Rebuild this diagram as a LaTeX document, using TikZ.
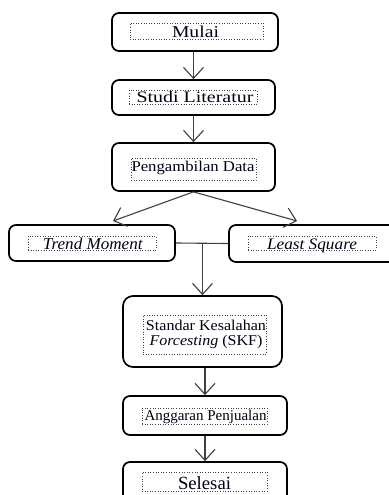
\documentclass[tikz,border=0pt]{standalone}
\usepackage{fontspec}
\usepackage{graphicx}
\setmainfont{Liberation Serif}
\usetikzlibrary{arrows.meta,calc}
\tikzset{
  outer/.style={draw=black, line width=1.7pt, rounded corners=7pt, fill=white, inner sep=0pt},
  dotbox/.style={draw=black!75, dotted, line width=0.6pt, inner sep=0pt},
  txt/.style={anchor=base, inner sep=0pt, text=black!92!blue},
  conn/.style={draw=black!75, line width=1.1pt},
  arr/.style={conn, -{Straight Barb[length=11pt,width=20pt,line width=1.1pt]}},
}
\newcommand{\fs}[1]{\fontsize{#1}{#1}\selectfont}
\begin{document}
\begin{tikzpicture}[x=1pt,y=-1pt]
\fill[white] (0,0) rectangle (388,495);
\useasboundingbox (0,0) rectangle (388,495);
% outer boxes
\node[outer, minimum width=166pt, minimum height=38pt] (mulai) at (195,32) {};
\node[outer, minimum width=163pt, minimum height=35pt] (studi) at (193.5,97.5) {};
\node[outer, minimum width=163pt, minimum height=48pt] (peng) at (193.5,167) {};
\node[outer, minimum width=166pt, minimum height=36pt] (trend) at (92,243) {};
\node[outer, minimum width=169pt, minimum height=37pt] (least) at (313.5,243.5) {};
\node[outer, rounded corners=10pt, minimum width=159pt, minimum height=71pt] (standar) at (202.5,331.5) {};
\node[outer, minimum width=164pt, minimum height=39pt] (angg) at (205,415.5) {};
\node[outer, minimum width=164pt, minimum height=43pt] (selesai) at (205,483.5) {};
% dotted text frames
\node[dotbox, minimum width=133pt, minimum height=16pt] (dmulai) at (196.5,31) {};
\node[dotbox, minimum width=128pt, minimum height=14pt] (dstudi) at (193,97) {};
\node[dotbox, minimum width=125pt, minimum height=22pt] (dpeng) at (193.5,169) {};
\node[dotbox, minimum width=128pt, minimum height=14pt] (dtrend) at (92,243) {};
\node[dotbox, minimum width=128pt, minimum height=14pt] (dleast) at (312,243) {};
\node[dotbox, minimum width=123pt, minimum height=39pt] (dstandar) at (204.5,334.5) {};
\node[dotbox, minimum width=125pt, minimum height=16pt] (dangg) at (204.5,416) {};
\node[dotbox, minimum width=125pt, minimum height=19pt] (dselesai) at (204.5,481.5) {};
% texts
\node[txt] (tmulai) at (195.5,38) {\fs{16.6}\resizebox{47pt}{\height}{Mulai}};
\node[txt] (tstudi) at (195,102) {\fs{16}\resizebox{117pt}{\height}{Studi Literatur}};
\node[txt] (tpeng) at (193,171.7) {\fs{15}\resizebox{123pt}{\height}{Pengambilan Data}};
\node[txt] (ttrend) at (93,249) {\fs{16.6}\resizebox{100pt}{\height}{\textit{Trend Moment}}};
\node[txt] (tleast) at (312,249) {\fs{16}\resizebox{90pt}{\height}{\textit{Least Square}}};
\node[txt] (tstd1) at (206,330) {\fs{15}\resizebox{120pt}{\height}{Standar Kesalahan}};
\node[txt] (tstd2) at (206,345) {\fs{15}\resizebox{113pt}{\height}{\textit{Forcesting} (SKF)}};
\node[txt] (tangg) at (205.5,420) {\fs{15}\resizebox{122pt}{\height}{Anggaran Penjualan}};
\node[txt] (tselesai) at (204.5,489) {\fs{18.6}\resizebox{53pt}{\height}{Selesai}};
% connectors
\coordinate (tl) at (113,221);
\coordinate (tr) at (297,221);
\draw[arr] (studi.north |- mulai.south) -- (studi.north);
\draw[arr] (peng.north |- studi.south) -- (peng.north);
\draw[arr] (peng.south) -- (tl);
\draw[arr] (peng.south) -- (tr);
\draw[conn] (trend.east) -- (least.west);
\coordinate (j) at (standar.north |- trend.east);
\draw[arr] (j) -- (standar.north);
\draw[arr] (angg.north |- standar.south) -- (angg.north);
\draw[arr] (selesai.north |- angg.south) -- (selesai.north);
\end{tikzpicture}
\end{document}
